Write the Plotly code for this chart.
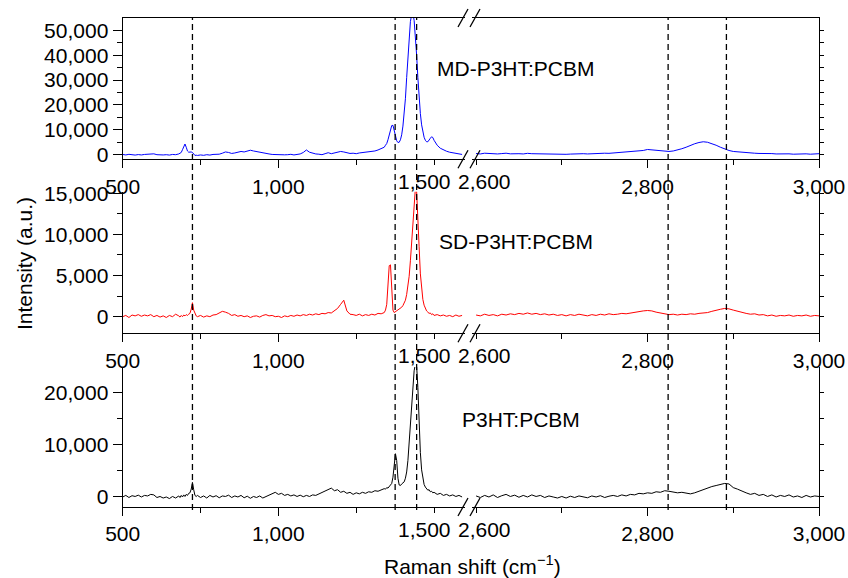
import plotly.graph_objects as go

# ---------------- data ----------------
X_LEFT = [500, 510, 520, 530, 540, 550, 560, 570, 580, 590, 600, 610, 620, 630, 640, 650, 660, 670, 680,
          684, 688, 692, 696, 700, 704, 708, 712, 716, 720, 724, 728, 732, 736,
          740, 750, 760, 770, 780, 790, 800, 810, 820, 830, 840, 850, 860, 870, 880, 890, 900, 910, 920, 930,
          940, 950, 960, 970, 980, 990, 1000, 1010, 1020, 1030, 1040, 1050, 1060, 1070, 1080, 1090, 1100, 1110,
          1120, 1130, 1140, 1150, 1160, 1170, 1180, 1190, 1200, 1210, 1220, 1230, 1240, 1250, 1260, 1270, 1280,
          1290, 1300, 1310, 1320, 1330, 1340,
          1344, 1348, 1352, 1356, 1360, 1364, 1368, 1372, 1376, 1380, 1384, 1388, 1392, 1396, 1400, 1404, 1408,
          1412, 1416, 1420, 1424, 1428, 1432, 1436, 1440, 1444, 1448, 1452, 1456, 1460, 1464, 1468, 1472, 1476,
          1480, 1484, 1488, 1492, 1496, 1500,
          1510, 1520, 1530, 1540, 1550, 1560, 1570, 1580, 1590]

X_RIGHT = [2600, 2605, 2610, 2615, 2620, 2625, 2630, 2635, 2640, 2645, 2650, 2655, 2660, 2665, 2670, 2675,
           2680, 2685, 2690, 2695, 2700, 2705, 2710, 2715, 2720, 2725, 2730, 2735, 2740, 2745, 2750, 2755,
           2760, 2765, 2770, 2775, 2780, 2785, 2790, 2795, 2800, 2805, 2810, 2815, 2820, 2825, 2830, 2835,
           2840, 2845, 2850, 2855, 2860, 2865, 2870, 2875, 2880, 2885, 2890, 2895, 2900, 2905, 2910, 2915,
           2920, 2925, 2930, 2935, 2940, 2945, 2950, 2955, 2960, 2965, 2970, 2975, 2980, 2985, 2990, 2995, 3000]

MD_LEFT = [100, -100, 150, 0, -150, 50, -100, 100, 200, 500, 350, 0, -200, -100, 0, -150, 100, 0, 300,
           500, 900, 2000, 3600, 4300, 3000, 1500, 1000, 1200, 1100, 900, 200, -300, -200,
           -300, -100, -250, 0, -150, 100, 0, 200, 600, 1100,
           900, 500, 700, 1000, 1300, 1100, 1500, 1800, 1500, 1200,
           900, 700, 400, 300, 100, 0, -100, 100, -50, 0,
           150, -100, 0, 300, 900, 1900, 1000, 500, 300, 200,
           0, 400, 800, 400, 700, 1100, 1300, 1100, 800, 500,
           600, 400, 700, 800, 1000, 1100, 1300, 1500, 1900, 2300,
           3000,
           3800, 4500, 6000, 8200, 10300, 11700, 11800, 9800, 7300, 5600,
           4900, 5000, 6000, 8000, 11500, 16000, 22500, 31000, 40000, 48000,
           53500, 56300, 56800, 54000, 48000, 40000, 31000, 23000, 16500, 12000,
           9000, 7000, 5800, 5200, 5200, 5700, 6600, 7200, 6900, 5800,
           3800, 2600, 1900, 1400, 1000, 700, 400, 300, 100]

SD_LEFT = [0, 150, -100, 200, 100, 250, 50, 200, 100, 250, 0, 150, -50, 100, -100, 150, 0, 300, 100,
           -50, 150, 0, 200, 100, 250, 150, 300, 400, 900, 1700, 800, 300, 100,
           0, 150, -50, 100, 0, 200, 250, 500, 650, 550,
           400, 150, 250, 50, 150, 0, 100, -100, 50, 100,
           -50, 150, 250, 100, 150, 0, 50, -100, 100, 0,
           150, 50, 200, 100, 250, 150, 300, 200, 350, 250,
           400, 350, 500, 450, 700, 1000, 1500, 2000, 700, 300,
           250, 150, 300, 100, 250, 150, 300, 200, 400, 350,
           500,
           800, 1500, 3300, 6200, 6300, 2400, 800, 500, 600, 650,
           750, 850, 1000, 1150, 1350, 1600, 2000, 2700, 3600, 4900,
           6800, 9300, 12000, 14300, 15600, 15200, 12600, 8500, 5200, 3200,
           2100, 1400, 1000, 700, 550, 400, 450, 250, 350, 150,
           250, 100, 200, 50, 150, 0, 200, 50, 150]

P3HT_LEFT = [0, 300, -100, 250, 100, 350, 0, 300, 200, 500, 400, -100, 100, -200, 0, -300, 100, -200, 200,
             -100, 300, 0, 400, 100, 500, 300, 700, 800, 1500, 2800, 1400, 300, 100,
             300, -100, 200, -200, 300, 0, 250, -150, 200, 100,
             350, -100, 200, 0, 300, -150, 150, -250, 100, -100,
             200, -200, 100, 400, 700, 900, 500, 700, 300, 500,
             200, 400, 100, 350, 50, 300, 100, 400, 300, 600,
             900, 1200, 1500, 1700, 1200, 1400, 900, 1100, 700, 900,
             500, 800, 600, 900, 700, 1000, 900, 1200, 1100, 1400,
             1600,
             1500, 1800, 1700, 2000, 2200, 2600, 3800, 6000, 8300, 7000,
             3600, 2300, 2200, 2500, 2700, 2900, 3600, 4800, 7000, 10500,
             14500, 18500, 21800, 24200, 25500, 25200, 21000, 14000, 8500, 5200,
             3400, 2400, 1900, 1600, 1300, 1400, 1000, 1100, 800, 900,
             500, 700, 300, 500, 200, 400, 100, 300, 0]

MD_RIGHT = [500, 300, 600, 400, 500, 300, 450, 600, 350, 500,
            400, 300, 550, 400, 350, 500, 300, 450, 350, 250,
            300, 150, 250, 350, 250, 400, 300, 450, 350, 500,
            600, 550, 700, 850, 800, 1000, 1200, 1300, 1500, 1700,
            2100, 1900, 1750, 1600, 1400, 1300, 1500, 1800, 2400, 3000,
            3800, 4400, 4900, 5200, 5000, 4500, 3800, 3000, 2200, 1700,
            1300, 1100, 900, 800, 700, 600, 500, 550, 400, 450,
            300, 400, 250, 350, 200, 300, 250, 350, 200, 300,
            400]

SD_RIGHT = [200, 100, 300, 150, 250, 100, 300, 200, 350, 250,
            400, 300, 450, 300, 400, 250, 350, 200, 300, 150,
            250, 100, 250, 150, 300, 200, 100, 250, 150, 300,
            200, 350, 250, 300, 400, 350, 450, 500, 600, 700,
            750, 700, 550, 450, 350, 250, 300, 200, 300, 250,
            350, 300, 400, 450, 500, 650, 800, 900, 1000, 950,
            800, 650, 550, 400, 300, 350, 200, 250, 100, 200,
            50, 150, 100, 200, 50, 150, 100, 200, 50, 150,
            100]

P3HT_RIGHT = [200, -100, 300, 0, 400, -100, 250, 500, 100, 350,
              -50, 300, 0, 400, 100, 300, -100, 200, 0, -200,
              100, -200, 150, -100, 200, 0, -150, 200, 0, 250,
              -100, 150, 300, 100, 400, 200, 500, 400, 700, 600,
              800, 700, 1000, 900, 1200, 1100, 1000, 800, 900, 700,
              600, 800, 1100, 1500, 1700, 2000, 2200, 2400, 2600, 2500,
              1800, 1500, 1100, 800, 500, 700, 300, 500, 100, 400,
              0, 300, 100, 400, 0, 200, -100, 300, 0, 200,
              100]

LABELS = ["MD-P3HT:PCBM", "SD-P3HT:PCBM", "P3HT:PCBM"]
COLORS = ["#0000ff", "#ff0000", "#000000"]
LEFT_TICKS = [500, 1000]
LEFT_TICKTEXT = ["500", "1,000"]
RIGHT_TICKS = [2800, 3000]
RIGHT_TICKTEXT = ["2,800", "3,000"]
BREAK_LABELS = ["1,500", "2,600"]
DASH_LEFT = [724, 1375, 1444]
DASH_RIGHT = [2824, 2892]

SERIES = [(MD_LEFT, MD_RIGHT), (SD_LEFT, SD_RIGHT), (P3HT_LEFT, P3HT_RIGHT)]
for a, b in SERIES:
    assert len(a) == len(X_LEFT), (len(a), len(X_LEFT))
    assert len(b) == len(X_RIGHT), (len(b), len(X_RIGHT))

# ---------------- layout geometry ----------------
W, H = 848, 578
FONT = "Liberation Sans, Arial, sans-serif"
FS = 21


def px(x):
    return x / W


def py(y):
    return 1 - y / H


XL_DOM = [px(122.7), px(465.2)]
XR_DOM = [px(471.8), px(819.0)]
ROWS = [
    dict(top=18.0, bot=159.3, rng=[-1850, 54950], dtick=10000, minor=5000, rt=5000),
    dict(top=191.7, bot=333.3, rng=[-2020, 15190], dtick=5000, minor=2500, rt=2500),
    dict(top=367.0, bot=507.0, rng=[-1920, 24930], dtick=10000, minor=5000, rt=5000),
]

fig = go.Figure()
layout = dict(
    template="none",
    width=W, height=H, autosize=False,
    margin=dict(l=0, r=0, t=0, b=0, pad=0),
    paper_bgcolor="white", plot_bgcolor="white",
    showlegend=False,
    font=dict(family=FONT, size=FS, color="black"),
)

common = dict(showgrid=False, zeroline=False, showline=True, linecolor="black", linewidth=1.3,
              ticks="outside", tickcolor="black", tickwidth=1.3, automargin=False,
              tickfont=dict(family=FONT, size=FS, color="black"))


def name(kind, n):
    return kind + ("" if n == 1 else str(n))


ann = []
for i, row in enumerate(ROWS):
    nl, nr = 2 * i + 1, 2 * i + 2
    ydom = [py(row["bot"]), py(row["top"])]
    left, right = SERIES[i]
    fig.add_trace(go.Scatter(x=X_LEFT, y=left, mode="lines", line=dict(color=COLORS[i], width=1),
                             xaxis=name("x", nl), yaxis=name("y", nl), cliponaxis=False, hoverinfo="skip"))
    fig.add_trace(go.Scatter(x=X_RIGHT, y=right, mode="lines", line=dict(color=COLORS[i], width=1),
                             xaxis=name("x", nr), yaxis=name("y", nr), cliponaxis=False, hoverinfo="skip"))

    layout[name("xaxis", nl)] = dict(common, domain=XL_DOM, range=[500, 1600], anchor=name("y", nl),
                                     tickmode="array", tickvals=LEFT_TICKS, ticktext=LEFT_TICKTEXT, ticklen=8,
                                     minor=dict(ticks="outside", dtick=250, tick0=500, ticklen=5,
                                                tickcolor="black", tickwidth=1.3),
                                     mirror=(i == 0))
    layout[name("xaxis", nr)] = dict(common, domain=XR_DOM, range=[2595, 3000], anchor=name("y", nr),
                                     tickmode="array", tickvals=RIGHT_TICKS, ticktext=RIGHT_TICKTEXT, ticklen=8,
                                     minor=dict(ticks="outside", dtick=100, tick0=2600, ticklen=5,
                                                tickcolor="black", tickwidth=1.3),
                                     mirror=(i == 0))
    layout[name("yaxis", nl)] = dict(common, domain=ydom, range=row["rng"], anchor=name("x", nl),
                                     tick0=0, dtick=row["dtick"], tickformat=",d", ticklen=9,
                                     minor=dict(ticks="outside", dtick=row["minor"], tick0=0, ticklen=5,
                                                tickcolor="black", tickwidth=1.3))
    layout[name("yaxis", nr)] = dict(common, domain=ydom, range=row["rng"], anchor=name("x", nr),
                                     side="right", showticklabels=False, tick0=0, dtick=row["rt"], ticklen=4)
    # labels next to the axis break (shifted apart as in the reference)
    for txt, xc in zip(BREAK_LABELS, [424, 484]):
        ann.append(dict(text=txt, xref="paper", yref="paper", x=px(xc), y=py(row["bot"] + 22.5),
                        xanchor="center", yanchor="middle", showarrow=False,
                        font=dict(family=FONT, size=FS, color="black")))

shapes = []
for xv in DASH_LEFT:
    shapes.append(dict(type="line", xref="x", yref="paper", x0=xv, x1=xv, y0=py(510), y1=py(18),
                       line=dict(color="black", width=1.3, dash="6px,4px")))
for xv in DASH_RIGHT:
    shapes.append(dict(type="line", xref="x2", yref="paper", x0=xv, x1=xv, y0=py(510), y1=py(18),
                       line=dict(color="black", width=1.3, dash="6px,4px")))
# axis-break marks
for yl in [18.0, 159.3, 333.3, 507.0]:
    for x0 in [458.0, 470.0]:
        shapes.append(dict(type="line", xref="paper", yref="paper", x0=px(x0), x1=px(x0 + 10),
                           y0=py(yl + 9), y1=py(yl - 9), line=dict(color="black", width=1.3)))
layout["shapes"] = shapes

for lab, (x, y) in zip(LABELS, [(435, 68), (437, 241.7), (460, 419.3)]):
    ann.append(dict(text=lab, xref="paper", yref="paper", x=px(x), y=py(y), xanchor="left",
                    yanchor="middle", showarrow=False, font=dict(family=FONT, size=FS, color="black")))
ann.append(dict(text="Intensity (a.u.)", xref="paper", yref="paper", x=px(24), y=py(264), textangle=-90,
                xanchor="center", yanchor="middle", showarrow=False,
                font=dict(family=FONT, size=FS, color="black")))
ann.append(dict(text="Raman shift (cm<sup>\u22121</sup>)", xref="paper", yref="paper", x=px(473), y=py(565),
                xanchor="center", yanchor="middle", showarrow=False,
                font=dict(family=FONT, size=FS, color="black")))
layout["annotations"] = ann

fig.update_layout(**layout)
fig.write_html("out.html")
